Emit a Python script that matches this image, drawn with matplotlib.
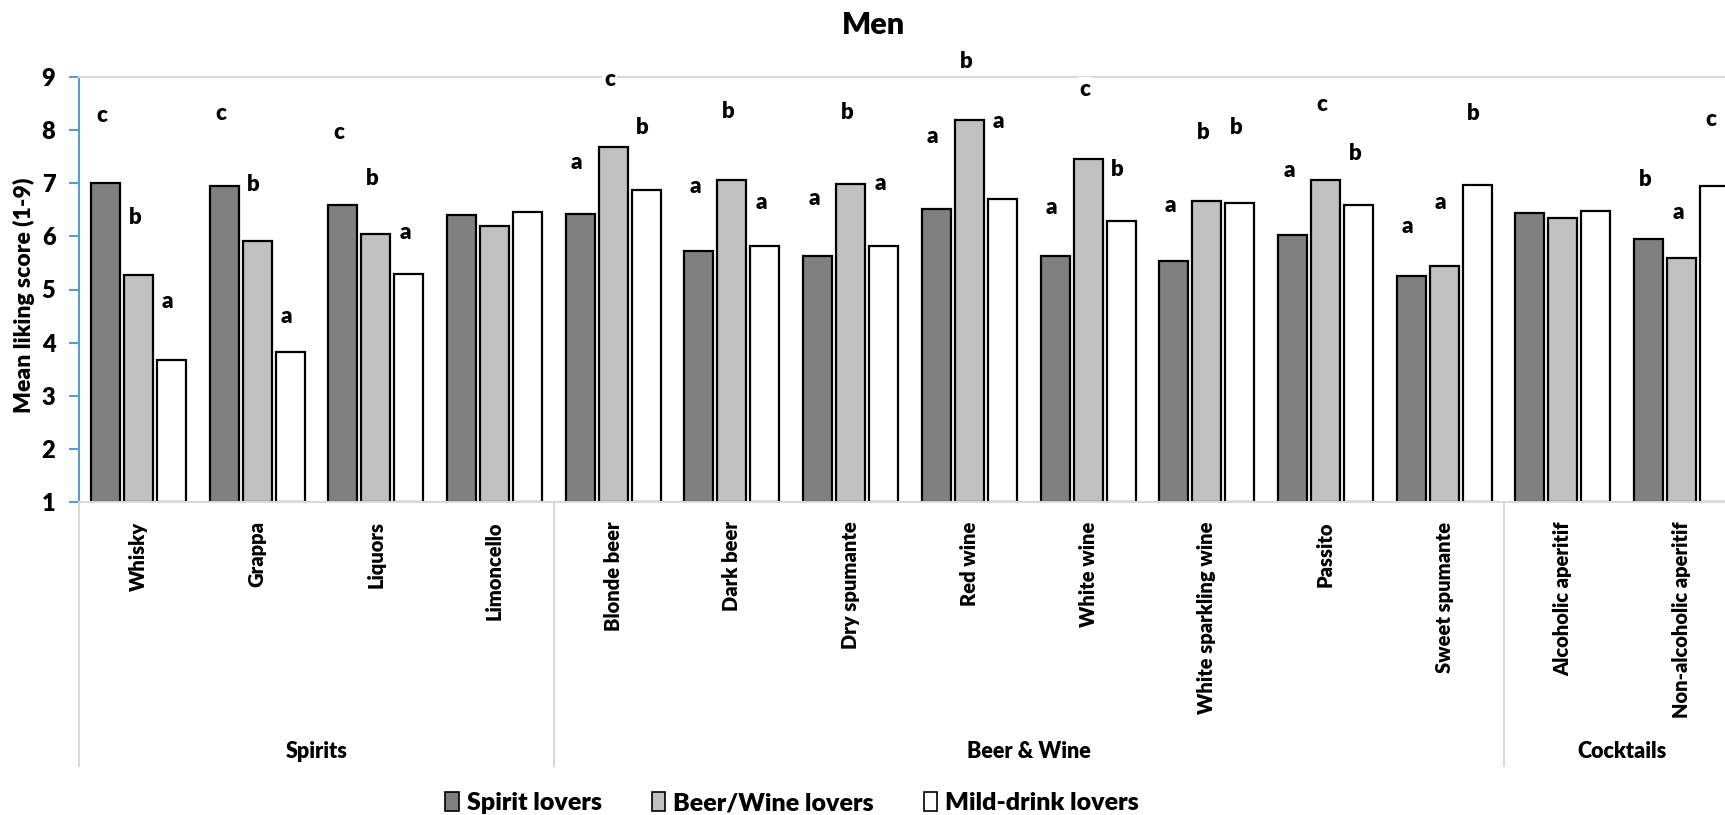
import numpy as np
import matplotlib.pyplot as plt
from matplotlib.patches import Patch

plt.rcParams['font.family'] = ['Lato', 'DejaVu Sans']
plt.rcParams['font.weight'] = 'bold'

# Drinks, grouped by type
drinks = ['Whisky', 'Grappa', 'Liquors', 'Limoncello',
          'Blonde beer', 'Dark beer', 'Dry spumante', 'Red wine', 'White wine',
          'White sparkling wine', 'Passito', 'Sweet spumante',
          'Alcoholic aperitif', 'Non-alcoholic aperitif']
groups = ['Spirits', 'Beer & Wine', 'Cocktails']
group_sizes = [4, 8, 2]

series = ['Spirit lovers', 'Beer/Wine lovers', 'Mild-drink lovers']

# mean liking scores (1-9)
spirit = [7.00, 6.94, 6.60, 6.41, 6.43, 5.72, 5.64, 6.51, 5.64, 5.53, 6.03, 5.25, 6.44, 5.96]
beerwine = [5.28, 5.92, 6.04, 6.19, 7.68, 7.07, 6.99, 8.20, 7.46, 6.67, 7.06, 5.45, 6.35, 5.59]
mild = [3.67, 3.82, 5.29, 6.45, 6.88, 5.82, 5.82, 6.70, 6.29, 6.63, 6.59, 6.96, 6.47, 6.95]

# standard deviations (letters sit at mean + SD), None where no letter is shown
sd_spirit = [1.28, 1.37, 1.36, None, 0.96, 1.22, 1.08, 1.37, 0.90, 1.05, 1.21, 0.93, None, 1.11]
sd_beerwine = [1.07, 1.05, 1.05, None, 1.27, 1.29, 1.34, 1.09, 1.31, 1.29, 1.42, 1.19, None, 0.86]
sd_mild = [1.11, 0.68, 0.78, None, 1.16, 0.81, 1.18, 1.47, 0.96, 1.41, 0.97, 1.36, None, 1.25]

# significance letters
let_spirit = ['c', 'c', 'c', '', 'a', 'a', 'a', 'a', 'a', 'a', 'a', 'a', '', 'b']
let_beerwine = ['b', 'b', 'b', '', 'c', 'b', 'b', 'b', 'c', 'b', 'c', 'a', '', 'a']
let_mild = ['a', 'a', 'a', '', 'b', 'a', 'a', 'a', 'b', 'b', 'b', 'b', '', 'c']

colors = ['#808080', '#c0c0c0', '#ffffff']

fig = plt.figure(figsize=(17.25, 8.15), dpi=100)
# axes runs past the right edge, as in the cropped original
ax = fig.add_axes([79 / 1725, 1 - 502 / 815, 1662 / 1725, 425 / 815])

x = np.arange(len(drinks))
w = 0.245
step = 0.278
data = [spirit, beerwine, mild]
sds = [sd_spirit, sd_beerwine, sd_mild]
lets = [let_spirit, let_beerwine, let_mild]

for i in range(3):
    xs = x + (i - 1) * step
    ax.bar(xs, np.array(data[i]) - 1, bottom=1, width=w, color=colors[i],
           edgecolor='black', linewidth=1.6, zorder=2)
    for j in range(len(drinks)):
        if lets[i][j]:
            ax.text(xs[j] - 0.03, data[i][j] + sds[i][j], lets[i][j],
                    ha='center', va='center', fontsize=16, fontweight='heavy',
                    zorder=5,
                    bbox=dict(facecolor='white', edgecolor='none', pad=1.5))

ax.set_xlim(-0.5, len(drinks) - 0.5)
ax.set_ylim(1, 9)
ax.set_yticks(range(1, 10))
ax.tick_params(axis='y', colors='#5b9bd5', length=7, width=1.5, pad=10,
               labelsize=17, labelcolor='black')
for t in ax.get_yticklabels():
    t.set_fontweight('heavy')

ax.set_xticks(x)
ax.set_xticklabels(drinks, rotation=90, fontsize=14.5, fontweight='heavy')
ax.tick_params(axis='x', length=0, pad=14)

ax.spines['left'].set_color('#5b9bd5')
ax.spines['left'].set_linewidth(1.5)
ax.spines['top'].set_color('#d9d9d9')
ax.spines['top'].set_linewidth(1.5)
ax.spines['bottom'].set_color('#d9d9d9')
ax.spines['bottom'].set_linewidth(1.5)
ax.spines['right'].set_visible(False)

# group separators and group names under the drink labels
trans = ax.get_xaxis_transform()
edges = np.concatenate([[0], np.cumsum(group_sizes)]) - 0.5
for e in edges:
    ax.plot([e, e], [0, -0.621], color='#d9d9d9', lw=1.5, transform=trans,
            clip_on=False)
for g, a, b in zip(groups, edges[:-1], edges[1:]):
    ax.text((a + b) / 2, -0.588, g, transform=trans, ha='center', va='center',
            fontsize=15.5, fontweight='heavy')

fig.text(873 / 1725, 1 - 25 / 815, 'Men', ha='center', va='center',
         fontsize=22, fontweight='heavy')
fig.text(24 / 1725, 1 - 295 / 815, 'Mean liking score (1-9)', rotation=90,
         ha='center', va='center', fontsize=16.5, fontweight='heavy')

handles = [Patch(facecolor=c, edgecolor='black', linewidth=1.2) for c in colors]
fig.legend(handles, series, loc='center', bbox_to_anchor=(792 / 1725, 1 - 803 / 815),
           ncol=3, frameon=False, handlelength=0.55, handleheight=0.8,
           handletextpad=0.3, columnspacing=2.0, prop={'weight': 'heavy', 'size': 18})

fig.savefig('out.png', dpi=100)
